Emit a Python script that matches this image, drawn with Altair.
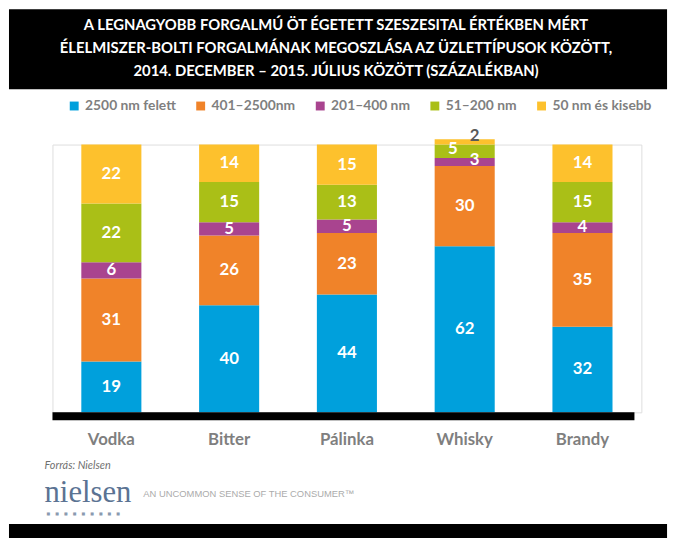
import altair as alt
import pandas as pd

categories = ["Vodka", "Bitter", "Pálinka", "Whisky", "Brandy"]
series = ["2500 nm felett", "401–2500nm", "201–400 nm", "51–200 nm", "50 nm és kisebb"]
colors = ["#00A0DC", "#F08329", "#A9448F", "#AABF17", "#FDC12D"]
v_2500 = [19, 40, 44, 62, 32]
v_401 = [31, 26, 23, 30, 35]
v_201 = [6, 5, 5, 3, 4]
v_51 = [22, 15, 13, 5, 15]
v_50 = [22, 14, 15, 2, 14]

title_text = ("A LEGNAGYOBB FORGALMÚ ÖT ÉGETETT SZESZESITAL ÉRTÉKBEN MÉRT\n"
              "ÉLELMISZER-BOLTI FORGALMÁNAK MEGOSZLÁSA AZ ÜZLETTÍPUSOK KÖZÖTT,\n"
              "2014. DECEMBER – 2015. JÚLIUS KÖZÖTT (SZÁZALÉKBAN)")
source_text = "Forrás: Nielsen"
logo_text = "nielsen"
tagline_text = "AN UNCOMMON SENSE OF THE CONSUMER™"

rows = []
for si, (s, vals) in enumerate(zip(series, [v_2500, v_401, v_201, v_51, v_50])):
    for c, v in zip(categories, vals):
        rows.append({"cat": c, "series": s, "order": si, "value": v})
df = pd.DataFrame(rows)

W, H = 596, 271
FONT = "Lato"

xenc = alt.X("cat:N", sort=categories,
             scale=alt.Scale(paddingInner=0.49, paddingOuter=0.245),
             axis=alt.Axis(title=None, domain=False, ticks=False, labelAngle=0,
                           labelFont=FONT, labelFontSize=17, labelFontWeight="bold",
                           labelColor="#7F7F7F", labelPadding=20))
yscale = alt.Scale(domain=[0, 100], nice=False, zero=True)

base = alt.Chart(df).transform_stack(
    stack="value", groupby=["cat"], sort=[alt.SortField("order", "ascending")],
    as_=["y0", "y1"]
).transform_calculate(mid="(datum.y0 + datum.y1) / 2")

bars = base.mark_bar().encode(
    x=xenc,
    y=alt.Y("y0:Q", scale=yscale, axis=None),
    y2="y1:Q",
    color=alt.Color("series:N", scale=alt.Scale(domain=series, range=colors),
                    legend=alt.Legend(orient="none", legendX=15, legendY=-46,
                                      direction="horizontal", columns=5, title=None,
                                      symbolType="square", symbolSize=81,
                                      symbolStrokeWidth=0, symbolOpacity=1,
                                      labelFont=FONT, labelFontSize=14,
                                      labelFontWeight="bold", labelColor="#7F7F7F",
                                      columnPadding=18, labelOffset=4, padding=0)),
)

is_special = ("datum.cat == 'Whisky' && (datum.series == '50 nm és kisebb' || "
              "datum.series == '51–200 nm' || datum.series == '201–400 nm')")

labels = base.transform_filter("!(" + is_special + ")").mark_text(
    color="white", font=FONT, fontWeight="bold", fontSize=17, baseline="middle"
).encode(x=xenc, y=alt.Y("mid:Q", scale=yscale, axis=None), text="value:Q")

lab_2 = base.transform_filter(
    "datum.cat == 'Whisky' && datum.series == '50 nm és kisebb'"
).mark_text(color="#595959", font=FONT, fontWeight="bold", fontSize=17,
            baseline="middle", dx=10, dy=-3
).encode(x=xenc, y=alt.Y("y1:Q", scale=yscale, axis=None), text="value:Q")

lab_5 = base.transform_filter(
    "datum.cat == 'Whisky' && datum.series == '51–200 nm'"
).mark_text(color="white", font=FONT, fontWeight="bold", fontSize=17,
            baseline="middle", dx=-12, dy=-2
).encode(x=xenc, y=alt.Y("mid:Q", scale=yscale, axis=None), text="value:Q")

lab_3 = base.transform_filter(
    "datum.cat == 'Whisky' && datum.series == '201–400 nm'"
).mark_text(color="white", font=FONT, fontWeight="bold", fontSize=17,
            baseline="middle", dx=10, dy=-2
).encode(x=xenc, y=alt.Y("mid:Q", scale=yscale, axis=None), text="value:Q")

one = pd.DataFrame({"t": [title_text]})

title_bg = alt.Chart(one).mark_rect(color="black").encode(
    x=alt.value(-44), x2=alt.value(622), y=alt.value(-137), y2=alt.value(-56))
title = alt.Chart(one).mark_text(
    color="white", font=FONT, fontWeight="bold", fontSize=15, align="center",
    baseline="middle", lineBreak="\n", lineHeight=23.5
).encode(x=alt.value(287), y=alt.value(-121), text="t:N")

axis_line = alt.Chart(one).mark_rule(color="black", strokeWidth=8).encode(
    x=alt.value(0), x2=alt.value(589), y=alt.value(H + 4))

source = alt.Chart(pd.DataFrame({"t": [source_text]})).mark_text(
    font=FONT, fontStyle="italic", fontSize=11, color="#6F6F6F", align="left",
    baseline="middle").encode(x=alt.value(-8), y=alt.value(325), text="t:N")

logo = alt.Chart(pd.DataFrame({"t": [logo_text]})).mark_text(
    font="Liberation Serif", fontSize=31, color="#5B7393", align="left",
    baseline="alphabetic").encode(x=alt.value(-8), y=alt.value(362), text="t:N")

nb = "\u00a0\u00a0\u00a0\u00a0"
dots = alt.Chart(pd.DataFrame({"t": [nb.join(["■"] * 9)]})).mark_text(
    font="DejaVu Sans", fontSize=4, color="#8A9AB0", align="left",
    baseline="middle").encode(x=alt.value(-6), y=alt.value(374), text="t:N")

tagline = alt.Chart(pd.DataFrame({"t": [tagline_text]})).mark_text(
    font="Liberation Sans", fontSize=9.5, color="#ABABAB", align="left",
    baseline="middle").encode(x=alt.value(92), y=alt.value(354), text="t:N")

bottom_bar = alt.Chart(one).mark_rect(color="black").encode(
    x=alt.value(-44), x2=alt.value(622), y=alt.value(384), y2=alt.value(400))

chart = alt.layer(
    title_bg, title, bars, labels, lab_2, lab_5, lab_3, axis_line,
    source, logo, dots, tagline, bottom_bar
).properties(
    width=W, height=H,
    padding={"left": 45, "top": 135, "right": 30, "bottom": 124},
    autosize=alt.AutoSizeParams(type="none"),
).configure_view(stroke=None).configure(background="white")

chart.save("out.html", embed_options={"renderer": "svg", "actions": False})
